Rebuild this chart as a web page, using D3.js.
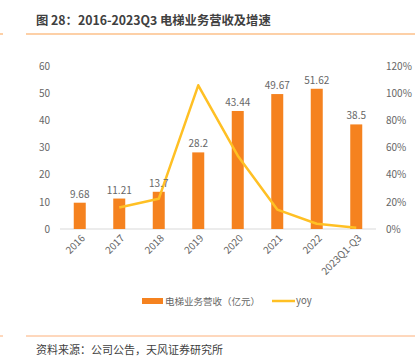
<!DOCTYPE html>
<html><head><meta charset="utf-8">
<script src="https://cdn.jsdelivr.net/npm/d3@7"></script>
<style>body{margin:0;background:#fff}svg{display:block}</style>
</head><body><svg id="c" width="417" height="364"></svg>
<script>
const categories = ["2016","2017","2018","2019","2020","2021","2022","2023Q1-Q3"];
const revenue = [9.68,11.21,13.7,28.2,43.44,49.67,51.62,38.5];
const yoy = [null,0.158,0.222,1.058,0.54,0.143,0.039,0.01];
const leftTicks = [0,10,20,30,40,50,60];
const rightTicks = [0,0.2,0.4,0.6,0.8,1.0,1.2];
const title = "图 28：2016-2023Q3 电梯业务营收及增速";
const source = "资料来源：公司公告，天风证券研究所";
const legendLabels = ["电梯业务营收（亿元）","yoy"];

const svg = d3.select("#c");
const font = "'Noto Sans CJK SC','Noto Sans',sans-serif";
const txt = "#666";

// title
svg.append("text").attr("x",36).attr("y",25).attr("font-family",font).attr("font-size",12.3)
  .attr("font-weight","bold").attr("fill","#404040").text(title);
svg.append("line").attr("x1",26).attr("x2",415).attr("y1",34).attr("y2",34).attr("stroke","#FDC08A").attr("stroke-width",1.5);
svg.append("line").attr("x1",0).attr("x2",3).attr("y1",34).attr("y2",34).attr("stroke","#FDC08A").attr("stroke-width",1.5);

const x = d3.scaleBand().domain(categories).range([60,376]);
const y = d3.scaleLinear().domain([0,60]).range([229,66]);
const y2 = d3.scaleLinear().domain([0,1.2]).range([229,66]);

// left axis
const la = svg.append("g").attr("transform","translate(50,0)")
  .call(d3.axisLeft(y).tickValues(leftTicks).tickSize(0).tickPadding(0));
la.select(".domain").remove();
la.selectAll("text").attr("font-family",font).attr("font-size",10).attr("fill",txt);

// right axis
const ra = svg.append("g").attr("transform","translate(386,0)")
  .call(d3.axisRight(y2).tickValues(rightTicks).tickSize(0).tickPadding(0).tickFormat(d3.format(".0%")));
ra.select(".domain").remove();
ra.selectAll("text").attr("font-family",font).attr("font-size",10).attr("fill",txt);

// baseline
svg.append("line").attr("x1",60).attr("x2",376).attr("y1",y(0)).attr("y2",y(0)).attr("stroke","#d9d9d9").attr("stroke-width",1);

// bars
const bw = 12;
svg.append("g").selectAll("rect").data(revenue).join("rect")
  .attr("x",(d,i)=>x(categories[i])+x.bandwidth()/2-bw/2)
  .attr("width",bw)
  .attr("y",d=>y(d)).attr("height",d=>y(0)-y(d))
  .attr("fill","#F5821F");

// line
const pts = yoy.map((v,i)=>({c:categories[i],v})).filter(d=>d.v!==null);
svg.append("path").datum(pts)
  .attr("d",d3.line().x(d=>x(d.c)+x.bandwidth()/2).y(d=>y2(d.v)))
  .attr("fill","none").attr("stroke","#FFC024").attr("stroke-width",2.5).attr("stroke-linejoin","round");

// data labels
svg.append("g").selectAll("text").data(revenue).join("text")
  .attr("x",(d,i)=>x(categories[i])+x.bandwidth()/2)
  .attr("y",d=>y(d)-5)
  .attr("text-anchor","middle").attr("font-family",font).attr("font-size",10).attr("fill",txt)
  .text(d=>d);

// x labels
svg.append("g").selectAll("text").data(categories).join("text")
  .attr("transform",d=>`translate(${x(d)+x.bandwidth()/2+4},${y(0)+8}) rotate(-45)`)
  .attr("text-anchor","end").attr("dominant-baseline","middle")
  .attr("font-family",font).attr("font-size",10).attr("fill",txt)
  .text(d=>d);

// legend
svg.append("rect").attr("x",142).attr("y",298).attr("width",21).attr("height",6).attr("fill","#F5821F");
svg.append("text").attr("x",165).attr("y",305).attr("font-family",font).attr("font-size",9.5).attr("fill",txt).text(legendLabels[0]);
svg.append("line").attr("x1",272).attr("x2",295).attr("y1",301).attr("y2",301).attr("stroke","#FFC024").attr("stroke-width",2.5);
svg.append("text").attr("x",296).attr("y",304).attr("font-family",font).attr("font-size",9.5).attr("fill",txt).text(legendLabels[1]);

// footer
svg.append("line").attr("x1",26).attr("x2",415).attr("y1",336).attr("y2",336).attr("stroke","#FDB07A").attr("stroke-width",1);
svg.append("line").attr("x1",0).attr("x2",3).attr("y1",336).attr("y2",336).attr("stroke","#FDB07A").attr("stroke-width",1);
svg.append("text").attr("x",36).attr("y",354).attr("font-family",font).attr("font-size",11).attr("fill","#404040").text(source);
</script></body></html>
